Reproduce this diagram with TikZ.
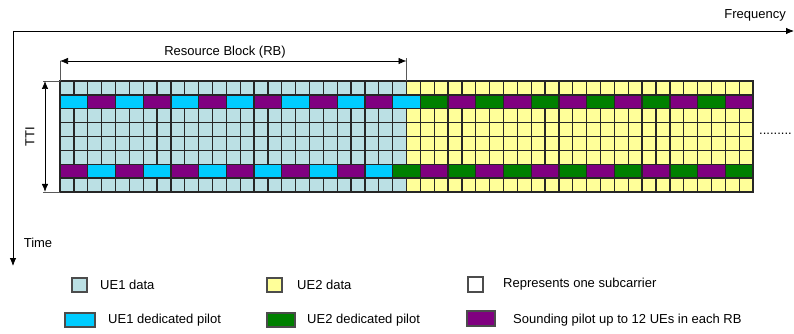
\documentclass[tikz,border=0pt]{standalone}
\usepackage{fontspec}
\setmainfont{Liberation Sans}
\usetikzlibrary{arrows.meta}

\definecolor{ueonedata}{RGB}{187,224,228}
\definecolor{uetwodata}{RGB}{255,255,153}
\definecolor{ueonepilot}{RGB}{0,204,255}
\definecolor{uetwopilot}{RGB}{0,128,0}
\definecolor{sounding}{RGB}{128,0,128}

\begin{document}
\begin{tikzpicture}[x=1pt,y=-1pt,
  cell/.style={draw=black!85,line width=1.3pt},
  axis/.style={draw=black,line width=0.8pt,-{Latex[length=8pt,width=6.5pt]}},
  dim/.style={draw=black,line width=0.7pt,{Latex[length=8pt,width=6.5pt]}-{Latex[length=8pt,width=6.5pt]}},
  tick/.style={draw=black!65,line width=0.7pt},
  label/.style={font=\fontsize{13}{15}\selectfont,inner sep=0pt},
  key/.style={draw=black!70,line width=1.1pt},
]
\useasboundingbox (0,0) rectangle (794,334);
\def\cw{13.86}

% axes
\coordinate (origin) at (13,31);
\coordinate (freq-end) at (794,31);
\coordinate (time-end) at (13,266);
\draw[axis] (origin) -- (freq-end);
\draw[axis] (origin) -- (time-end);
\node[label,anchor=east] (freq) at (786,15) {Frequency};
\node[label] (time) at (38,243) {Time};

% subcarrier grid, data first
\foreach \i in {0,...,24}
  \foreach \j in {0,...,7}
    \draw[cell,fill=ueonedata] ({60+\i*\cw},{81+\j*\cw}) rectangle ++(\cw,\cw);
\foreach \i in {25,...,49}
  \foreach \j in {0,...,7}
    \draw[cell,fill=uetwodata] ({60+\i*\cw},{81+\j*\cw}) rectangle ++(\cw,\cw);

% pilot rows, two subcarriers per block
\foreach \k in {0,2,...,12}
  \draw[cell,fill=ueonepilot] ({60+2*\k*\cw},{81+\cw}) rectangle ++({2*\cw},\cw);
\foreach \k in {1,3,...,11,14,16,...,24}
  \draw[cell,fill=sounding] ({60+2*\k*\cw},{81+\cw}) rectangle ++({2*\cw},\cw);
\foreach \k in {13,15,...,23}
  \draw[cell,fill=uetwopilot] ({60+2*\k*\cw},{81+\cw}) rectangle ++({2*\cw},\cw);

\foreach \k in {1,3,...,11}
  \draw[cell,fill=ueonepilot] ({60+2*\k*\cw},{81+6*\cw}) rectangle ++({2*\cw},\cw);
\foreach \k in {0,2,...,10,13,15,...,23}
  \draw[cell,fill=sounding] ({60+2*\k*\cw},{81+6*\cw}) rectangle ++({2*\cw},\cw);
\foreach \k in {12,14,...,24}
  \draw[cell,fill=uetwopilot] ({60+2*\k*\cw},{81+6*\cw}) rectangle ++({2*\cw},\cw);

\coordinate (grid-nw) at (60,81);
\coordinate (grid-sw) at ({60},{81+8*\cw});
\coordinate (rb-ne) at ({60+25*\cw},81);

% resource block span
\coordinate (rb-w) at (60,61);
\coordinate (rb-e) at ({60+25*\cw},61);
\draw[tick] (grid-nw) -- (rb-w);
\draw[tick] (rb-ne) -- ++(0,-23);
\draw[dim] (rb-w) -- (rb-e);
\node[label] (rb) at (225,52) {Resource Block (RB)};

% TTI span
\coordinate (tti-n) at (45,81);
\coordinate (tti-s) at (45,{81+8*\cw});
\draw[tick] (grid-nw) -- ++(-17,0);
\draw[tick] (grid-sw) -- ++(-17,0);
\draw[dim] (tti-n) -- (tti-s);
\node[label,rotate=90] (tti) at (30,137) {TTI};

\node[label,anchor=west] (more) at (759,134) {.........};

% legend
\draw[key,fill=ueonedata] (72,278) rectangle (87,292);
\node[label,anchor=west] (k1) at (100,285) {UE1 data};
\draw[key,fill=uetwodata] (267,278) rectangle (282,292);
\node[label,anchor=west] (k2) at (297,285) {UE2 data};
\draw[key,fill=white] (468,277) rectangle (483,292);
\node[label,anchor=west] (k3) at (503,284) {Represents one subcarrier};

\draw[key,fill=ueonepilot] (65,313) rectangle (95,327);
\node[label,anchor=west] (k4) at (108,320) {UE1 dedicated pilot};
\draw[key,fill=uetwopilot] (267,313) rectangle (295,327);
\node[label,anchor=west] (k5) at (307,320) {UE2 dedicated pilot};
\draw[key,fill=sounding] (467,311) rectangle (495,326);
\node[label,anchor=west] (k6) at (513,320) {Sounding pilot up to 12 UEs in each RB};

\end{tikzpicture}
\end{document}
